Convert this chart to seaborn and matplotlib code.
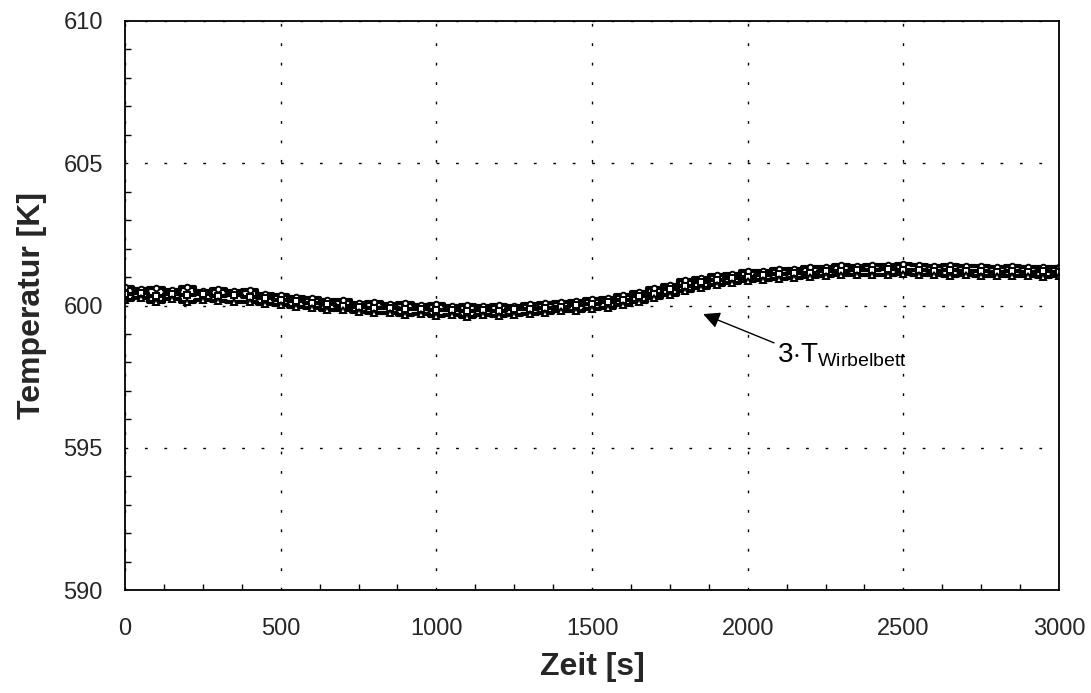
import matplotlib
matplotlib.use("Agg")
import matplotlib.pyplot as plt
from matplotlib.ticker import MultipleLocator
import seaborn as sns
import pandas as pd

# Zeitachse [s] und drei Temperaturverlaeufe [K]
zeit = list(range(0, 3001, 50))

temp_a = [600.64, 600.58, 600.62, 600.55, 600.66, 600.52, 600.59, 600.50, 600.54, 600.42,
          600.38, 600.30, 600.28, 600.20, 600.18, 600.10, 600.12, 600.05, 600.08, 600.02,
          600.04, 599.98, 600.02, 599.99, 600.03, 600.00, 600.06, 600.08, 600.14, 600.15,
          600.24, 600.27, 600.38, 600.47, 600.63, 600.72, 600.88, 600.95, 601.08, 601.12,
          601.20, 601.22, 601.28, 601.30, 601.35, 601.36, 601.41, 601.40, 601.44, 601.41,
          601.45, 601.42, 601.40, 601.41, 601.38, 601.40, 601.36, 601.38, 601.35, 601.37, 601.35]

temp_b = [600.40, 600.45, 600.35, 600.42, 600.38, 600.40, 600.34, 600.37, 600.30, 600.28,
          600.19, 600.16, 600.08, 600.07, 599.99, 599.96, 599.90, 599.92, 599.86, 599.88,
          599.83, 599.85, 599.80, 599.84, 599.81, 599.86, 599.87, 599.93, 599.95, 600.02,
          600.04, 600.12, 600.19, 600.33, 600.42, 600.58, 600.68, 600.82, 600.88, 600.98,
          601.01, 601.08, 601.09, 601.15, 601.16, 601.21, 601.22, 601.26, 601.24, 601.27,
          601.25, 601.26, 601.23, 601.25, 601.21, 601.23, 601.19, 601.21, 601.18, 601.20, 601.17]

temp_c = [600.18, 600.25, 600.14, 600.22, 600.13, 600.21, 600.15, 600.12, 600.14, 600.06,
          600.03, 599.95, 599.93, 599.85, 599.83, 599.76, 599.72, 599.72, 599.67, 599.70,
          599.63, 599.68, 599.60, 599.66, 599.62, 599.67, 599.70, 599.73, 599.79, 599.82,
          599.88, 599.93, 600.03, 600.12, 600.27, 600.38, 600.52, 600.62, 600.72, 600.78,
          600.86, 600.88, 600.93, 600.95, 601.00, 601.02, 601.06, 601.07, 601.08, 601.07,
          601.09, 601.06, 601.07, 601.05, 601.06, 601.03, 601.04, 601.02, 601.03, 601.01, 601.02]

x_ticks = [0, 500, 1000, 1500, 2000, 2500, 3000]
y_ticks = [590, 595, 600, 605, 610]

sns.set_theme(style="white")
plt.rcParams['font.family'] = ['Liberation Sans', 'DejaVu Sans']
plt.rcParams['mathtext.fontset'] = 'custom'
plt.rcParams['mathtext.rm'] = 'Liberation Sans'

df = pd.concat([
    pd.DataFrame({"Zeit": zeit, "Temperatur": temp_a, "Serie": "a"}),
    pd.DataFrame({"Zeit": zeit, "Temperatur": temp_b, "Serie": "b"}),
    pd.DataFrame({"Zeit": zeit, "Temperatur": temp_c, "Serie": "c"}),
])

fig = plt.figure(figsize=(10.91, 6.93), dpi=100)
ax = fig.add_axes([0.1146, 0.1486, 0.8561, 0.8211])

sns.lineplot(data=df, x="Zeit", y="Temperatur", hue="Serie", style="Serie",
             palette=["black", "black", "black"], markers=["o", "s", "^"], dashes=False,
             markersize=4, markerfacecolor="white", markeredgecolor="black",
             markeredgewidth=1.4, linewidth=3, drawstyle="steps-mid",
             legend=False, ax=ax)

ax.set_xlim(0, 3000)
ax.set_ylim(590, 610)
ax.set_xticks(x_ticks)
ax.set_yticks(y_ticks)
ax.xaxis.set_minor_locator(MultipleLocator(125))
ax.yaxis.set_minor_locator(MultipleLocator(1))
ax.tick_params(axis="both", which="both", direction="in", color="black")
ax.tick_params(which="major", length=5, labelsize=17)
ax.tick_params(axis="x", which="major", pad=20)
ax.tick_params(axis="y", which="major", pad=16)
ax.tick_params(which="minor", length=4, bottom=True, left=True)
ax.grid(True, which="major", color="black", linestyle=(0, (2, 12)), linewidth=1)
for s in ax.spines.values():
    s.set_color("black")
    s.set_linewidth(1.3)

ax.set_xlabel("Zeit [s]", fontsize=23, fontweight="bold", labelpad=9)
ax.set_ylabel("Temperatur [K]", fontsize=23, fontweight="bold", labelpad=12)

ax.annotate(r"3$\cdot$T$_{\mathrm{Wirbelbett}}$", xy=(1857, 599.7), xytext=(2095, 598.0),
            fontsize=20, color="black", va="baseline",
            arrowprops=dict(arrowstyle="-|>", color="black", lw=1,
                            mutation_scale=25, shrinkA=0, shrinkB=0,
                            relpos=(0, 0.9)))

fig.savefig("out.png", dpi=100)
